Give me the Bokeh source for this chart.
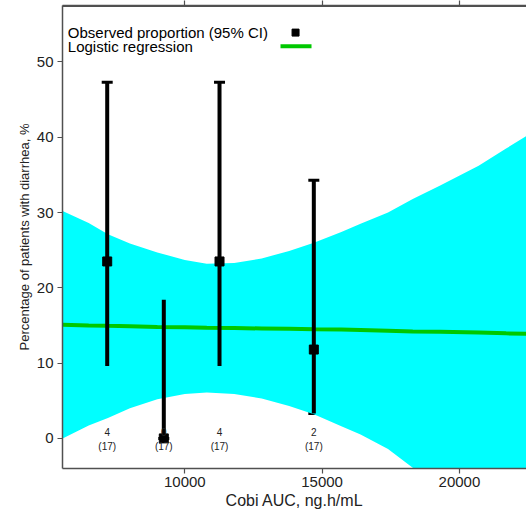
from bokeh.plotting import figure
from bokeh.models import ColumnDataSource, Whisker, TeeHead, LinearAxis, FixedTicker, Range1d, Span
from bokeh.core.properties import value
from bokeh.embed import file_html
from bokeh.resources import INLINE

# ---- data ----
obs_x = [7174, 9235, 11264, 14698]
obs_pct = [23.5, 0.0, 23.5, 11.8]
ci_low = [9.6, 0.0, 9.6, 3.3]
ci_high = [47.3, 18.4, 47.3, 34.3]
n_events = ["4", "0", "4", "2"]
n_total = ["(17)", "(17)", "(17)", "(17)"]

curve_x = [5550, 6500, 7200, 8000, 9000, 10000, 10800, 11800, 12800, 13800,
           14700, 15700, 16400, 17400, 18300, 19300, 20700, 21700, 22500]
band_high = [30.2, 28.6, 27.1, 25.9, 24.7, 23.7, 23.2, 23.3, 23.9, 24.9,
             26.0, 27.4, 28.5, 30.0, 31.8, 33.6, 36.2, 38.5, 40.3]
band_low = [0.0, 1.7, 2.7, 4.0, 5.2, 5.9, 6.1, 5.9, 5.3, 4.3,
            3.2, 1.6, 0.5, -1.4, -3.9, -6.5, -10.0, -12.5, -14.0]
fit_pct = [15.1, 15.0, 14.95, 14.9, 14.8, 14.75, 14.7, 14.65, 14.6, 14.55,
           14.5, 14.45, 14.4, 14.3, 14.2, 14.15, 14.05, 13.95, 13.9]

x_ticks = [10000, 15000, 20000]
y_ticks = [0, 10, 20, 30, 40, 50]

legend_labels = ["Observed proportion (95% CI)", "Logistic regression"]

FONT = "Liberation Sans"
AXIS_COLOR = "#505050"
Y_MAX = 57.5

p = figure(width=526, height=516, output_backend="svg", toolbar_location=None,
           x_range=Range1d(5546, 22443), y_range=Range1d(-4.0, Y_MAX),
           x_axis_location=None, y_axis_location=None,
           min_border_left=62, min_border_right=0, min_border_top=5, min_border_bottom=48)
p.outline_line_color = None
p.grid.visible = False
p.background_fill_color = "white"
p.border_fill_color = "white"

def style_axis(ax):
    ax.axis_line_color = AXIS_COLOR
    ax.axis_line_width = 1.5
    ax.major_tick_line_color = AXIS_COLOR
    ax.major_tick_line_width = 1.2
    ax.major_tick_out = 5
    ax.major_tick_in = 0
    ax.minor_tick_line_color = None
    ax.major_label_text_font = FONT
    ax.major_label_text_font_size = "15px"
    ax.major_label_text_color = "#222222"
    ax.axis_label_text_font = FONT
    ax.axis_label_text_font_size = "16px"
    ax.axis_label_text_font_style = "normal"
    ax.axis_label_text_color = "#222222"

xaxis = LinearAxis(ticker=FixedTicker(ticks=x_ticks), axis_label="Cobi AUC, ng.h/mL")
style_axis(xaxis)
xaxis.major_label_standoff = 3
xaxis.axis_label_standoff = 2
p.add_layout(xaxis, "below")

yaxis = LinearAxis(ticker=FixedTicker(ticks=y_ticks),
                   axis_label="Percentage of patients with diarrhea, %")
style_axis(yaxis)
yaxis.axis_label_text_font_size = "13px"
yaxis.major_label_standoff = 4
yaxis.axis_label_standoff = 2
p.add_layout(yaxis, "left")

# top border with outward ticks, labels hidden
taxis = LinearAxis(ticker=FixedTicker(ticks=x_ticks))
style_axis(taxis)
taxis.major_label_text_color = None
taxis.major_label_text_font_size = "1px"
taxis.major_label_standoff = 0
p.add_layout(taxis, "above")

# confidence band
p.varea(x=curve_x, y1=band_low, y2=band_high, fill_color="#00FFFF", fill_alpha=1.0)
# fitted line
p.line(x=curve_x, y=fit_pct, line_color="#00C800", line_width=4)

# observed with CIs
src = ColumnDataSource(dict(x=obs_x, y=obs_pct, lo=ci_low, hi=ci_high,
                            ev=n_events, tot=n_total,
                            ev_y=[0.9] * len(obs_x), tot_y=[-1.1] * len(obs_x)))
p.segment(x0="x", y0="lo", x1="x", y1="hi", source=src, line_color="black", line_width=4)
w = Whisker(base="x", lower="lo", upper="hi", source=src, dimension="height",
            line_color="black", line_width=0.01,
            upper_head=TeeHead(size=11, line_width=3, line_color="black"),
            lower_head=TeeHead(size=11, line_width=3, line_color="black"))
p.add_layout(w)
p.scatter(x="x", y="y", source=src, marker="square", size=9,
          fill_color="black", line_color="black")

p.text(x="x", y="ev_y", text="ev", source=src, text_font=value(FONT),
       text_font_size="10px", text_align="center", text_baseline="middle", text_color="#222222")
p.text(x="x", y="tot_y", text="tot", source=src, text_font=value(FONT),
       text_font_size="10px", text_align="center", text_baseline="middle", text_color="#222222")

# legend (label then key, as in the original)
leg_x = 5740
leg_y = [53.9, 52.1]
p.text(x=[leg_x, leg_x], y=leg_y, text=legend_labels, text_font=value(FONT),
       text_font_size="15px", text_align="left", text_baseline="middle",
       text_color="black")
p.scatter(x=[14033], y=[leg_y[0]], marker="square", size=7, fill_color="black", line_color="black")
p.line(x=[13485, 14614], y=[leg_y[1], leg_y[1]], line_color="#00C800", line_width=4)

# top frame line (thick so the half inside the frame shows)
p.add_layout(Span(location=Y_MAX, dimension="width", line_color=AXIS_COLOR, line_width=3))

open("out.html", "w").write(file_html(p, INLINE))
